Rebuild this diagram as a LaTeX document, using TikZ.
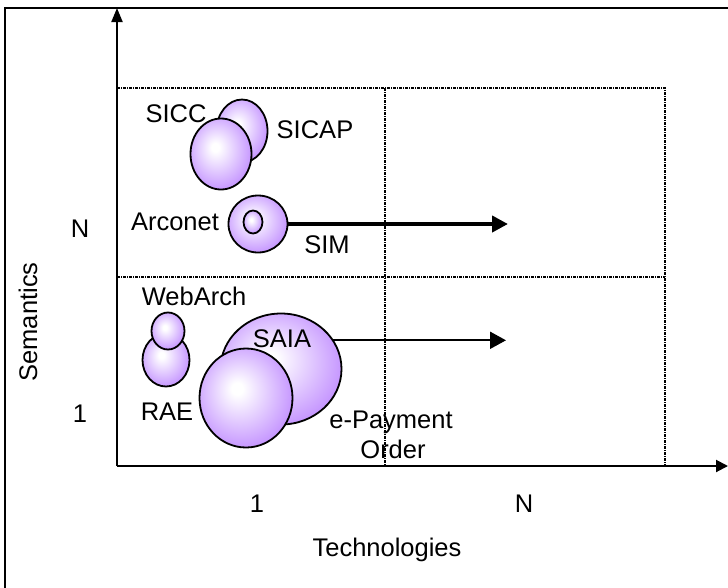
\documentclass[tikz,border=0pt]{standalone}
\usepackage{fontspec}
\setmainfont{Liberation Sans}
\usetikzlibrary{shapes.geometric,arrows.meta}
\definecolor{bub}{RGB}{192,140,255}
% soft violet bubble: white highlight near the middle, violet towards the rim
\pgfdeclareradialshading{bubbleshade}{\pgfpoint{-5bp}{5bp}}{color(0bp)=(white); color(3bp)=(white); color(30bp)=(bub); color(50bp)=(bub)}
\begin{document}
\begin{tikzpicture}[x=1pt,y=-1pt,
  lbl/.style={font=\fontsize{25.5}{30}\selectfont, anchor=base, inner sep=0pt},
  blob/.style={ellipse, draw, line width=1.8pt, shading=bubbleshade, inner sep=0pt, outer sep=0pt},
  gridline/.style={line width=1.3pt, dash pattern=on 3pt off 1pt on 1pt off 1pt},
  axis/.style={line width=2pt},
]
\clip (0,0) rectangle (728,587);

% outer frame
\draw[line width=2pt] (5,600) -- (5,8) -- (740,8);

% quadrant grid
\coordinate (gTL) at (117,88);
\coordinate (gTR) at (665,88);
\coordinate (gML) at (117,277);
\coordinate (gMR) at (665,277);
\coordinate (gBR) at (665,466);
\coordinate (gTC) at (385,88);
\coordinate (gBC) at (385,466);
\draw[gridline] (gTL) -- (gTR) -- (gBR);
\draw[gridline] (gML) -- (gMR);
\draw[gridline] (gTC) -- (gBC);

% axes
\coordinate (O) at (117,466);
\coordinate (ytip) at (117,8);
\coordinate (xtip) at (728,466);
\draw[axis,-{Triangle[length=14pt,width=11pt]}] (O) -- (ytip);
\draw[axis,-{Triangle[length=12pt,width=12pt]}] (O) -- (xtip);

% bubbles
\node[blob, minimum width=51pt, minimum height=63pt] (sicap) at (242,131) {};
\node[blob, minimum width=61pt, minimum height=71pt] (sicc) at (221,154) {};
\node[blob, minimum width=59pt, minimum height=57pt] (arconet) at (258,224) {};
\node[blob, minimum width=19pt, minimum height=23pt] (sim) at (253,222) {};
\node[blob, minimum width=47pt, minimum height=53pt] (rae) at (166,360) {};
\node[blob, minimum width=33pt, minimum height=37pt] (webarch) at (168,331) {};
\node[blob, minimum width=121pt, minimum height=111pt] (saia) at (281,369) {};
\node[blob, minimum width=93pt, minimum height=99pt] (epay) at (246,398) {};

% growth arrows
\coordinate (simEnd) at (508,225);
\coordinate (saiaEnd) at (506,340);
\draw[line width=4pt, -{Triangle[length=16pt,width=16pt]}] (arconet.east) -- (arconet.east -| simEnd);
\draw[line width=2pt, -{Triangle[length=16pt,width=17pt]}] (saia.29) -- (saia.29 -| saiaEnd);

% bubble labels
\node[lbl] (tSICC) at (176,122) {SICC};
\node[lbl] (tSICAP) at (315,138) {SICAP};
\node[lbl] (tArconet) at (175,230) {Arconet};
\node[lbl] (tSIM) at (327,253) {SIM};
\node[lbl] (tWebArch) at (194,305) {WebArch};
\node[lbl] (tSAIA) at (282,347) {SAIA};
\node[lbl] (tRAE) at (167,420) {RAE};
\node[lbl] (tEpay) at (391,428) {e-Payment};
\node[lbl] (tOrder) at (393,458) {Order};

% axis ticks and titles
\node[lbl] (yN) at (80,237) {N};
\node[lbl] (y1) at (80,422) {1};
\node[lbl] (x1) at (257,512) {1};
\node[lbl] (xN) at (524,512) {N};
\node[lbl] (xTitle) at (387,556) {Technologies};
\node[lbl, rotate=90] (yTitle) at (37,322) {Semantics};
\end{tikzpicture}
\end{document}
